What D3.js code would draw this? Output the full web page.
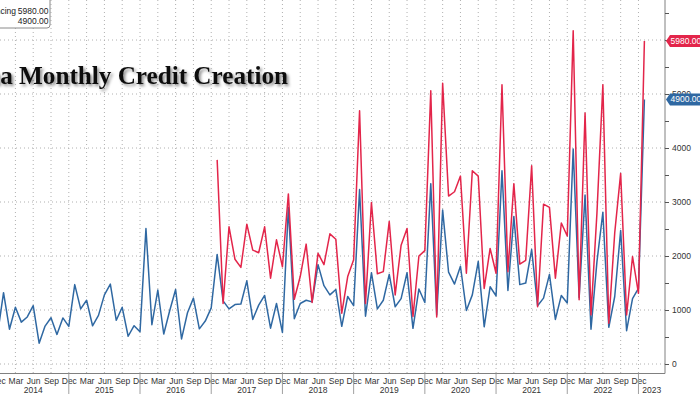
<!DOCTYPE html>
<html lang="en">
<head>
<meta charset="UTF-8">
<title>China Monthly Credit Creation</title>
<script src="https://d3js.org/d3.v7.min.js"></script>
<style>
  body { margin: 0; background: #fff; overflow: hidden; }
  svg { display: block; font-family: "Liberation Sans", Arial, sans-serif; }
  .grid line { stroke: #b0b0b0; stroke-dasharray: 1,3; }
  .tick text { fill: #333; font-size: 8.5px; }
  .line { fill: none; stroke-width: 1.5; stroke-linejoin: round; }
</style>
</head>
<body>
<svg width="700" height="394"></svg>
<script>
// monthly values, CNY bn
// new yuan loans: Dec 2013 .. Jan 2023
const loans = [
  560,
  1320, 644, 1050, 775, 871, 1080, 385, 702, 857, 548, 853, 697,
  1470, 1020, 1180, 708, 901, 1280, 1480, 810, 1050, 514, 709, 598,
  2510, 727, 1370, 556, 986, 1380, 464, 949, 1220, 651, 795, 1040,
  2030, 1170, 1020, 1100, 1110, 1540, 826, 1090, 1270, 663, 1120, 584,
  2900, 839, 1120, 1180, 1150, 1840, 1450, 1280, 1380, 697, 1250, 1080,
  3230, 886, 1690, 1020, 1180, 1660, 1060, 1210, 1690, 661, 1390, 1140,
  3340, 906, 2850, 1700, 1480, 1810, 992, 1280, 1900, 689, 1430, 1260,
  3580, 1360, 2730, 1470, 1500, 2120, 1080, 1220, 1660, 826, 1270, 1130,
  3980, 1230, 3130, 645, 1890, 2810, 679, 1250, 2470, 616, 1210, 1400,
  4900
];
// total social financing: Jan 2017 .. Jan 2023
const tsf = [
  3780, 1120, 2540, 1940, 1790, 2590, 2110, 2060, 2540, 1590, 2300, 1800,
  3150, 1200, 1620, 2220, 1140, 2050, 1840, 2410, 2310, 940, 1620, 1930,
  4690, 1120, 2990, 1670, 1710, 2640, 1280, 2200, 2510, 880, 2000, 2100,
  5060, 870, 5200, 3110, 3190, 3480, 1680, 3580, 3480, 1400, 2140, 1680,
  5170, 1710, 3340, 1850, 1920, 3670, 1060, 2960, 2900, 1590, 2610, 2370,
  6170, 1190, 4650, 910, 2790, 5170, 756, 2430, 3530, 908, 1990, 1310,
  5980
];
const tsfStart = 37; // Jan 2017, counted from Dec 2013

const quarterNames = ["Dec", "Mar", "Jun", "Sep"];
const years = [2014, 2015, 2016, 2017, 2018, 2019, 2020, 2021, 2022, 2023];
const yTicks = [0, 500, 1000, 1500, 2000, 2500, 3000, 3500, 4000, 4500, 5000, 5500, 6000, 6500];
const yLabels = [0, 1000, 2000, 3000, 4000, 5000]; // 6000 sits under the red tag
const seriesNames = ["China Total Social Financing", "China New Yuan Loans"];
const red = "#e3254a", blue = "#2f68a2";

const svg = d3.select("svg");
const plotRight = 665, axisY = 373.5;

const x = d3.scaleLinear().domain([0, 109]).range([-2.4, 644.4]);
const y = d3.scaleLinear().domain([0, 6000]).range([364, 40]);

const quarterIdx = d3.range(0, 109, 3);
const yearIdx = d3.range(0, 109, 12);

// grid
const grid = svg.append("g").attr("class", "grid");
grid.selectAll(".v").data(quarterIdx).join("line")
  .attr("class", "v")
  .attr("x1", d => x(d)).attr("x2", d => x(d))
  .attr("y1", 0).attr("y2", axisY);
grid.selectAll(".h").data(yTicks.filter(d => d % 1000 === 0)).join("line")
  .attr("class", "h")
  .attr("x1", 0).attr("x2", plotRight)
  .attr("y1", d => y(d)).attr("y2", d => y(d));

// lines
svg.append("path")
  .datum(loans)
  .attr("class", "line")
  .attr("stroke", blue)
  .attr("d", d3.line().x((d, i) => x(i)).y(d => y(d)));

svg.append("path")
  .datum(tsf)
  .attr("class", "line")
  .attr("stroke", red)
  .attr("d", d3.line().x((d, i) => x(i + tsfStart)).y(d => y(d)));

// frame
svg.append("line").attr("x1", 0).attr("x2", plotRight).attr("y1", axisY).attr("y2", axisY)
  .attr("stroke", "#808080");
svg.append("line").attr("x1", plotRight).attr("x2", plotRight).attr("y1", 0).attr("y2", axisY)
  .attr("stroke", "#808080");

// right axis
const yAxis = svg.append("g")
  .attr("transform", `translate(${plotRight},0)`)
  .call(d3.axisRight(y).tickValues(yTicks).tickSize(4).tickPadding(3)
    .tickFormat(d => yLabels.includes(d) ? d : ""));
yAxis.select(".domain").remove();
yAxis.selectAll(".tick line").attr("stroke", "#555");

// bottom axis
const xAxis = svg.append("g")
  .attr("transform", `translate(0,${axisY})`)
  .call(d3.axisBottom(x).tickValues(quarterIdx).tickSize(0).tickPadding(4.5)
    .tickFormat(d => quarterNames[(d / 3) % 4]));
xAxis.select(".domain").remove();

svg.append("g").selectAll("line").data(yearIdx).join("line")
  .attr("x1", d => x(d)).attr("x2", d => x(d))
  .attr("y1", axisY).attr("y2", 394)
  .attr("stroke", "#a0a0a0");

svg.append("g").selectAll("text").data(years).join("text")
  .attr("x", (d, i) => i < years.length - 1 ? x(i * 12 + 6) : (x(108) + plotRight) / 2)
  .attr("y", 393)
  .attr("text-anchor", "middle")
  .attr("font-size", "8.5px")
  .attr("fill", "#333")
  .text(d => d);

// value tags on the right
const tags = [
  {v: tsf[tsf.length - 1], c: red},
  {v: loans[loans.length - 1], c: blue}
];
tags.forEach(t => {
  const yc = y(t.v);
  svg.append("path")
    .attr("d", `M${plotRight + 1},${yc} L${plotRight + 5},${yc - 6} H700 V${yc + 6} H${plotRight + 5} Z`)
    .attr("fill", t.c);
  svg.append("text")
    .attr("x", plotRight + 5.5).attr("y", yc + 3)
    .attr("font-size", "8.5px").attr("fill", "#fff")
    .text(d3.format(".2f")(t.v));
});

// legend (cut off on the left)
svg.append("rect")
  .attr("x", -200).attr("y", -6).attr("width", 250).attr("height", 34).attr("rx", 3)
  .attr("fill", "#fff").attr("stroke", "#8a8a8a");
const n1 = svg.append("text").attr("x", 16).attr("y", 13.5)
  .attr("text-anchor", "end").attr("font-size", "8.5px").attr("fill", "#222")
  .text(seriesNames[0]);
const startX = 16 - n1.node().getComputedTextLength();
svg.append("text").attr("x", startX).attr("y", 24)
  .attr("font-size", "8.5px").attr("fill", "#222")
  .text(seriesNames[1]);
[tsf[tsf.length - 1], loans[loans.length - 1]].forEach((v, i) => {
  svg.append("text").attr("x", 48.5).attr("y", 13.5 + i * 10.5)
    .attr("text-anchor", "end").attr("font-size", "8.5px").attr("fill", "#222")
    .text(d3.format(".2f")(v));
});

// title with shadow
const defs = svg.append("defs");
defs.append("filter").attr("id", "shadow")
  .attr("x", "-10%").attr("y", "-30%").attr("width", "120%").attr("height", "160%")
  .append("feDropShadow")
  .attr("dx", 2).attr("dy", 2).attr("stdDeviation", 1.6)
  .attr("flood-color", "#000").attr("flood-opacity", 0.45);

const title = svg.append("text")
  .attr("x", 288).attr("y", 84)
  .attr("text-anchor", "end")
  .attr("font-family", "'Liberation Serif', 'DejaVu Serif', serif")
  .attr("font-weight", "bold")
  .attr("font-size", "28px")
  .attr("fill", "#111")
  .attr("filter", "url(#shadow)")
  .text("a Monthly Credit Creation");
const w = title.node().getComputedTextLength();
title.attr("font-size", (28 * 288 / w) + "px").text("China Monthly Credit Creation");
</script>
</body>
</html>
